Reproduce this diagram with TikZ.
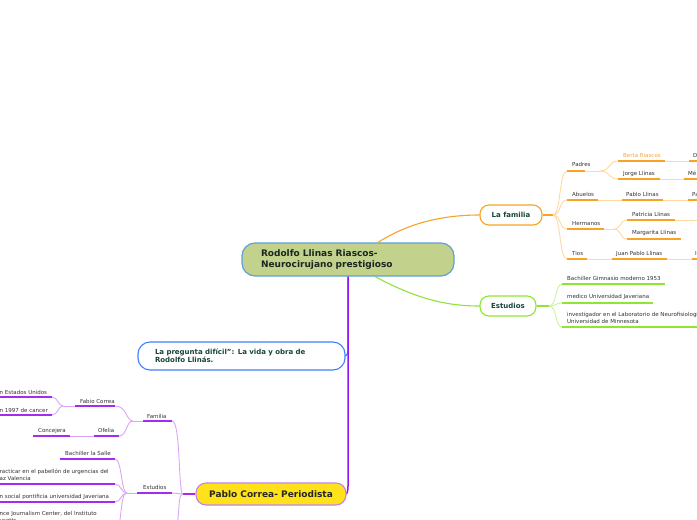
\documentclass[tikz,border=0pt]{standalone}
\usepackage{fontspec}
\setmainfont{DejaVu Sans}
\definecolor{famDark}{HTML}{F7A325}
\definecolor{famLight}{HTML}{FFD9A3}
\definecolor{stuDark}{HTML}{8FE534}
\definecolor{stuLight}{HTML}{C9F59E}
\definecolor{purDark}{HTML}{A42CEF}
\definecolor{purLight}{HTML}{DBA6F6}
\definecolor{mainPur}{HTML}{9317F2}
\definecolor{ctrFill}{HTML}{C2D18B}
\definecolor{ctrBorder}{HTML}{5EA0D8}
\definecolor{blueB}{HTML}{3F80FF}
\definecolor{yelFill}{HTML}{FFE21A}
\definecolor{yelBorder}{HTML}{C780EB}
\definecolor{topicTxt}{HTML}{17453A}
\definecolor{ctrTxt}{HTML}{1B2620}
\definecolor{tgray}{HTML}{333333}
\definecolor{bertaC}{HTML}{F5A541}
\begin{document}
\begin{tikzpicture}[x=1pt,y=-1pt,
  sm/.style={font=\fontsize{5.5}{7}\selectfont, text=tgray, inner sep=0pt, anchor=base west},
  famU/.style={draw=famDark, line width=1.8pt},
  famT/.style={draw=famLight, line width=0.9pt},
  stuU/.style={draw=stuDark, line width=1.8pt},
  stuT/.style={draw=stuLight, line width=0.9pt},
  purU/.style={draw=purDark, line width=1.8pt},
  purT/.style={draw=purLight, line width=0.9pt},
  topic/.style={line width=1.1pt, rounded corners=9pt, inner sep=0pt, fill=white,
    font=\bfseries\fontsize{7}{8}\selectfont, text=topicTxt},
]
\useasboundingbox (0,0) rectangle (697,520);
\fill[white] (0,0) rectangle (697,520);

% ---------- main topic nodes ----------
\node[draw=ctrBorder, fill=ctrFill, line width=1.2pt, rounded corners=13pt,
  minimum height=33pt, text width=174pt, inner xsep=19pt, inner ysep=0pt, align=left,
  font=\bfseries\fontsize{9}{11}\selectfont, text=ctrTxt] (ctr) at (348,259.5)
  {Rodolfo Llinas Riascos-\\Neurocirujano prestigioso};

\node[topic, draw=famDark, minimum width=62pt, minimum height=20pt] (fam) at (511,215) {La familia};
\node[topic, draw=stuDark, minimum width=56pt, minimum height=20pt] (est) at (508,306) {Estudios};
\node[topic, draw=blueB, rounded corners=12pt, minimum height=28pt, text width=173pt,
  inner xsep=17pt, align=left] (preg) at (241.5,356)
  {La pregunta difícil": La vida y obra de\\Rodolfo Llinás.};

% ---------- main connectors ----------
\draw[famDark, line width=1.1pt] ([xshift=30pt]ctr.north) .. controls (410,222) and (445,215) .. (fam.west);
\draw[stuDark, line width=1.1pt] ([xshift=27pt]ctr.south) .. controls (415,298) and (445,306) .. (est.west);
\draw[blueB, line width=1.1pt] (ctr.south) -- (348,350) .. controls (348,354) and (346,356) .. (preg.east);
\draw[mainPur, line width=1.5pt] (ctr.south) -- (348,486) .. controls (348,491) and (347,494) .. (346,494);

\node[topic, draw=yelBorder, fill=yelFill, rounded corners=10pt, minimum width=150pt, minimum height=22pt,
  font=\bfseries\fontsize{9}{10}\selectfont, text=black!85] (pab) at (271,494) {Pablo Correa- Periodista};

% ---------- La familia branch ----------
\coordinate (famR) at (553,215);
\draw[famU] (fam.east) -- (famR);
\coordinate (padS) at (567,171);
\coordinate (abuS) at (567,200);
\coordinate (herS) at (567,229);
\coordinate (tioS) at (567,259);
\draw[famT] (famR) .. controls (561,215) and (559,171) .. (padS);
\draw[famT] (famR) .. controls (561,215) and (559,200) .. (abuS);
\draw[famT] (famR) .. controls (561,215) and (559,229) .. (herS);
\draw[famT] (famR) .. controls (561,215) and (559,259) .. (tioS);

% Padres
\node[sm] (padres) at (572,166) {Padres};
\coordinate (padE) at (585,171);
\coordinate (padJ) at (600,171);
\draw[famU] (padS) -- (padE);
\draw[famT] (padE) -- (padJ);
\coordinate (berS) at (618,161);
\coordinate (jorS) at (618,179);
\draw[famT] (padJ) .. controls (611,171) and (608,161) .. (berS);
\draw[famT] (padJ) .. controls (611,171) and (608,179) .. (jorS);
\node[sm, text=bertaC] (berta) at (623,157) {Berta Riascos};
\coordinate (berE) at (665,161);
\coordinate (dS) at (689,161);
\draw[famU] (berS) -- (berE);
\draw[famT] (berE) -- (dS);
\draw[famU] (dS) -- (697,161);
\node[sm] (dtext) at (693,157) {D};
\node[sm] (jorge) at (623,175) {Jorge Llinas};
\coordinate (jorE) at (660,179);
\coordinate (meS) at (684,179);
\draw[famU] (jorS) -- (jorE);
\draw[famT] (jorE) -- (meS);
\draw[famU] (meS) -- (697,179);
\node[sm] (metext) at (688,175) {Mé};

% Abuelos
\node[sm] (abuelos) at (572,196) {Abuelos};
\coordinate (abuE) at (598,200);
\coordinate (pabloS) at (622,200);
\draw[famU] (abuS) -- (abuE);
\draw[famT] (abuE) -- (pabloS);
\node[sm] (pablo) at (626,196) {Pablo Llinas};
\coordinate (pabloE) at (663,200);
\coordinate (paS) at (688,200);
\draw[famU] (pabloS) -- (pabloE);
\draw[famT] (pabloE) -- (paS);
\draw[famU] (paS) -- (697,200);
\node[sm] (patext) at (692,196) {Pa};

% Hermanos
\node[sm] (hermanos) at (572,225) {Hermanos};
\coordinate (herE) at (604,229);
\coordinate (herJ) at (614,229);
\draw[famU] (herS) -- (herE);
\draw[famT] (herE) -- (herJ);
\coordinate (patS) at (627,220);
\coordinate (marS) at (627,239);
\draw[famT] (herJ) .. controls (621,229) and (620,220) .. (patS);
\draw[famT] (herJ) .. controls (621,229) and (620,239) .. (marS);
\node[sm] (patricia) at (632,216) {Patricia Llinas};
\coordinate (patE) at (675,220);
\draw[famU] (patS) -- (patE);
\draw[famT] (patE) -- (697,220);
\node[sm] (margarita) at (632,234) {Margarita Llinas};
\coordinate (marE) at (681,239);
\draw[famU] (marS) -- (marE);

% Tios
\node[sm] (tios) at (572,255) {Tios};
\coordinate (tioE) at (587,259);
\coordinate (juanS) at (612,259);
\draw[famU] (tioS) -- (tioE);
\draw[famT] (tioE) -- (juanS);
\node[sm] (juan) at (616,255) {Juan Pablo Llinas};
\coordinate (juanE) at (667,259);
\coordinate (iS) at (692,259);
\draw[famU] (juanS) -- (juanE);
\draw[famT] (juanE) -- (iS);
\draw[famU] (iS) -- (697,259);
\node[sm] (itext) at (695,255) {I};

% ---------- Estudios branch (right) ----------
\coordinate (estR) at (549,306);
\draw[stuU] (est.east) -- (estR);
\coordinate (gimS) at (562,284);
\coordinate (medS) at (562,303);
\coordinate (invS) at (562,327);
\draw[stuT] (estR) .. controls (557,306) and (555,284) .. (gimS);
\draw[stuT] (estR) .. controls (557,306) and (555,303) .. (medS);
\draw[stuT] (estR) .. controls (557,306) and (555,327) .. (invS);
\node[sm] (gim) at (567,280) {Bachiller Gimnasio moderno 1953};
\draw[stuU] (gimS) -- (665,284);
\node[sm] (med) at (567,298) {medico Universidad Javeriana};
\draw[stuU] (medS) -- (653,303);
\node[sm] (inv1) at (567,316) {investigador en el Laboratorio de Neurofisiología de la};
\node[sm] (inv2) at (567,323) {Universidad de Minnesota};
\draw[stuU] (invS) -- (697,327);

% ---------- Pablo Correa branch (left) ----------
\coordinate (pabJ) at (183,494);
\coordinate (famLR) at (172,421);
\coordinate (estLR) at (172,493);
\coordinate (pabDown) at (177,525);
\draw[purDark, line width=1.3pt] (pab.west) -- (pabJ);
\draw[purT] (pabJ) .. controls (178,494) and (181,421) .. (famLR);
\draw[purT] (pabJ) -- (estLR);
\draw[purT] (pabJ) .. controls (178,494) and (180,508) .. (pabDown);

% Familia (left)
\node[sm] (familiaL) at (147,418) {Familia};
\coordinate (famLS) at (143,421);
\coordinate (famLJ) at (133,421);
\draw[purU] (famLS) -- (famLR);
\draw[purT] (famLS) -- (famLJ);
\coordinate (fabE) at (115,406);
\coordinate (ofeE) at (119,436);
\draw[purT] (famLJ) .. controls (126,421) and (127,406) .. (fabE);
\draw[purT] (famLJ) .. controls (126,421) and (127,436) .. (ofeE);
\node[sm] (fabio) at (80,403) {Fabio Correa};
\coordinate (fabS) at (75,406);
\coordinate (fabJ) at (63,406);
\draw[purU] (fabS) -- (fabE);
\draw[purT] (fabS) -- (fabJ);
\coordinate (eeuuE) at (52,397);
\coordinate (canE) at (52,415);
\draw[purT] (fabJ) .. controls (58,406) and (58,397) .. (eeuuE);
\draw[purT] (fabJ) .. controls (58,406) and (58,415) .. (canE);
\node[sm] (eeuu) at (-0.5,394) {n Estados Unidos};
\draw[purU] (0,397) -- (eeuuE);
\node[sm] (cancer) at (-0.5,412) {n 1997 de cancer};
\draw[purU] (0,415) -- (canE);
\node[sm] (ofelia) at (98,432) {Ofelia};
\coordinate (ofeS) at (94,436);
\coordinate (conE) at (70,436);
\draw[purU] (ofeS) -- (ofeE);
\draw[purT] (ofeS) -- (conE);
\node[sm] (concejera) at (38,432) {Concejera};
\draw[purU] (33,436) -- (conE);

% Estudios (left)
\node[sm] (estudiosL) at (143,489) {Estudios};
\coordinate (estLS) at (137,493);
\coordinate (estLJ) at (127,493);
\draw[purU] (estLS) -- (estLR);
\draw[purT] (estLS) -- (estLJ);
\coordinate (salE) at (115,459);
\coordinate (urgE) at (115,484);
\coordinate (javE) at (115,502);
\coordinate (estDown) at (119,525);
\draw[purT] (estLJ) .. controls (121,493) and (122,459) .. (salE);
\draw[purT] (estLJ) .. controls (121,493) and (121,484) .. (urgE);
\draw[purT] (estLJ) .. controls (121,493) and (121,502) .. (javE);
\draw[purT] (estLJ) .. controls (121,493) and (122,512) .. (estDown);
\node[sm] (salle) at (65,455) {Bachiller la Salle};
\draw[purU] (60,459) -- (salE);
\node[sm] (urg1) at (-0.5,473) {racticar en el pabellón de urgencias del};
\node[sm] (urg2) at (-0.5,480) {az Valencia};
\draw[purU] (0,484) -- (urgE);
\node[sm] (jav) at (-0.5,498) {n social pontificia universidad Javeriana};
\draw[purU] (0,502) -- (javE);
\node[sm] (jour1) at (-0.5,515) {nce Journalism Center, del Instituto};
\node[sm] (jour2) at (-0.5,522) {usetts};
\end{tikzpicture}
\end{document}
